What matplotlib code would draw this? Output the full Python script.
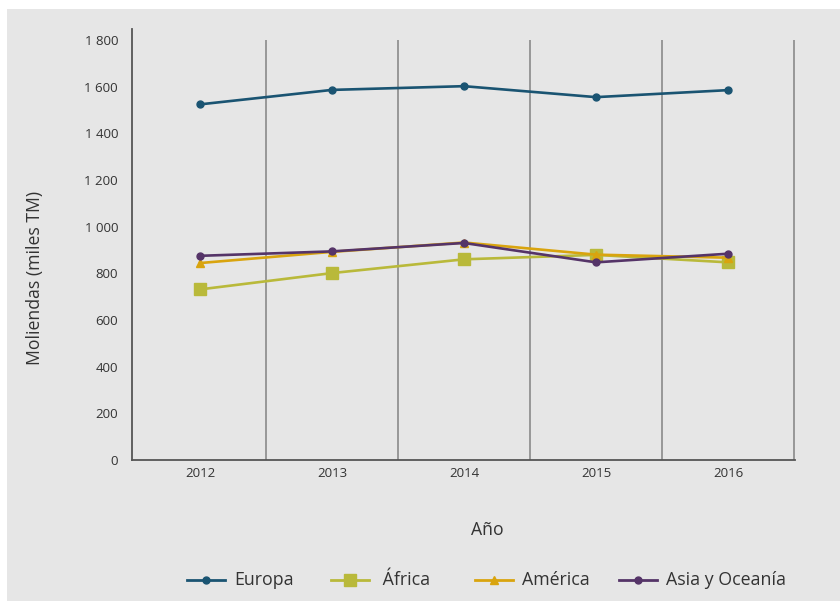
import matplotlib
matplotlib.use("Agg")
import matplotlib.pyplot as plt
from matplotlib.patches import Rectangle
from matplotlib.lines import Line2D
from matplotlib.ticker import FuncFormatter

plt.rcParams['font.family'] = ['Open Sans', 'DejaVu Sans']

years = ["2012", "2013", "2014", "2015", "2016"]
europa = [1524, 1586, 1602, 1555, 1585]
africa = [731, 801, 860, 879, 847]
america = [844, 892, 932, 880, 867]
asia = [875, 894, 930, 847, 884]

series_names = ["Europa", " África", "América", "Asia y Oceanía"]
colors = ["#1a5472", "#b9b93a", "#d9a40e", "#553468"]
markers = ["o", "s", "^", "o"]
msizes = [5, 9, 6, 5]
yticks = [0, 200, 400, 600, 800, 1000, 1200, 1400, 1600, 1800]

W, H = 840, 603
fig = plt.figure(figsize=(W / 100, H / 100), dpi=100, facecolor="white")
fig.patches.append(Rectangle((7 / W, 2 / H), 1 - 7 / W, 1 - 11 / H,
                             transform=fig.transFigure, facecolor="#e6e6e6",
                             edgecolor="none", zorder=-10))

ax = fig.add_axes([132 / W, 1 - 460 / H, (795 - 132) / W, (460 - 29) / H])
ax.set_facecolor("none")
ax.set_zorder(1)

x = list(range(len(years)))
txtc = "#333333"

ax.vlines([i + 0.5 for i in range(len(years))], 0, 1800, colors="#8a8a8a", lw=1.2, zorder=1)

data = [europa, africa, america, asia]
for i, vals in enumerate(data):
    ax.plot(x, vals, color=colors[i], lw=1.9, marker=markers[i], ms=msizes[i],
            label=series_names[i], zorder=3 + i)

ax.set_xlim(-0.515, 4.508)
ax.set_ylim(0, 1847)
ax.set_xticks(x)
ax.set_xticklabels(years)
ax.set_yticks(yticks)
ax.yaxis.set_major_formatter(FuncFormatter(lambda v, p: f"{int(v):,}".replace(",", " ")))
ax.tick_params(axis="both", length=0, labelsize=9.5, colors=txtc)
ax.tick_params(axis="y", pad=10)
ax.tick_params(axis="x", pad=5)

for s in ["top", "right"]:
    ax.spines[s].set_visible(False)
ax.spines["left"].set_color("#555555")
ax.spines["left"].set_linewidth(1.3)
ax.spines["bottom"].set_color("#555555")
ax.spines["bottom"].set_linewidth(1.3)

fig.text(35 / W, 1 - 278 / H, "Moliendas (miles TM)", rotation=90, ha="center", va="center",
         fontsize=12.7, color=txtc)
fig.text(487 / W, 1 - 530 / H, "Año", ha="center", va="center", fontsize=12.7, color=txtc)

# legend: fixed-width columns
ly = 1 - 580 / H
for i, name in enumerate(series_names):
    x0 = 187 + 144 * i
    fig.add_artist(Line2D([x0 / W, (x0 + 38) / W], [ly, ly], transform=fig.transFigure,
                          color=colors[i], lw=2))
    fig.add_artist(Line2D([(x0 + 19) / W], [ly], transform=fig.transFigure,
                          color=colors[i], marker=markers[i], ms=msizes[i], lw=0))
    fig.text((x0 + 47) / W, ly, name, ha="left", va="center", fontsize=12.8, color=txtc)

fig.savefig("out.png", dpi=100, facecolor="white")
